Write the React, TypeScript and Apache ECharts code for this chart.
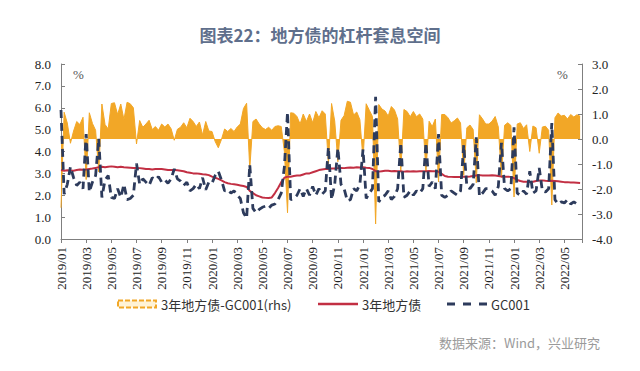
import React, { useEffect, useRef } from 'react';
import * as echarts from 'echarts';

const TITLE = '图表22：地方债的杠杆套息空间';
const SOURCE = '数据来源：Wind，兴业研究';
const NAME_SPREAD = '3年地方债-GC001(rhs)';
const NAME_BOND = '3年地方债';
const NAME_GC = 'GC001';
const START_YEAR = 2019;
const STEPS_PER_MONTH = 4; // samples per month (roughly weekly)
const X_MAX_MONTHS = 41.4;
const LEFT_AXIS = { min: 0, max: 8, interval: 1 };
const RIGHT_AXIS = { min: -4, max: 3, interval: 1 };

// 3年地方债 yield (%), four samples per month from 2019/01
const bond = [
  3.15, 3.12, 3.14, 3.13, 3.12, 3.15, 3.18, 3.17, 3.18, 3.2, 3.22, 3.25,
  3.28, 3.3, 3.28, 3.3, 3.32, 3.3, 3.28, 3.3, 3.28, 3.27, 3.26, 3.25,
  3.25, 3.24, 3.22, 3.2, 3.2, 3.18, 3.2, 3.2, 3.2, 3.18, 3.15, 3.16,
  3.15, 3.14, 3.12, 3.1, 3.05, 3.03, 3.0, 3.0, 2.98, 2.96, 2.95, 2.92,
  2.85, 2.8, 2.75, 2.68, 2.6, 2.55, 2.52, 2.5, 2.48, 2.45, 2.42, 2.38,
  2.2, 2.1, 2.0, 1.95, 1.9, 1.88, 1.87, 1.9, 2.1, 2.33, 2.6, 2.8,
  2.85, 2.85, 2.88, 2.9, 2.9, 2.95, 3.0, 3.0, 3.05, 3.1, 3.15, 3.18,
  3.2, 3.2, 3.22, 3.22, 3.24, 3.25, 3.24, 3.26, 3.27, 3.26, 3.28, 3.27,
  3.28, 3.26, 3.25, 3.2, 3.1, 3.08, 3.1, 3.12, 3.12, 3.1, 3.11, 3.1,
  3.1, 3.08, 3.1, 3.09, 3.1, 3.09, 3.1, 3.1, 3.1, 3.11, 3.1, 3.1,
  3.08, 2.98, 2.88, 2.85, 2.84, 2.83, 2.84, 2.84, 2.85, 2.85, 2.86, 2.88,
  2.9, 2.92, 2.9, 2.9, 2.9, 2.91, 2.9, 2.88, 2.86, 2.85, 2.85, 2.84,
  2.78, 2.7, 2.65, 2.62, 2.62, 2.6, 2.62, 2.65, 2.68, 2.68, 2.66, 2.65,
  2.66, 2.65, 2.64, 2.62, 2.6, 2.6, 2.58, 2.58, 2.57, 2.56,
];

// GC001 rate (%), same sampling
const gc001 = [
  5.9, 2.05, 2.5, 3.3, 2.8, 2.45, 2.6, 2.3, 4.8, 2.15, 2.6, 2.9,
  4.6, 1.9, 2.7, 2.9, 1.9, 1.85, 2.3, 1.9, 2.5, 1.8, 1.85, 2.0,
  3.45, 2.5, 2.75, 2.6, 2.45, 2.8, 2.7, 2.85, 2.6, 2.7, 2.55, 2.75,
  3.2, 2.75, 2.65, 2.45, 2.6, 2.2, 2.3, 2.5, 2.3, 2.8, 2.25, 2.6,
  2.55, 2.9, 3.1, 2.7, 2.2, 2.25, 2.1, 2.2, 2.0, 1.85, 1.2, 0.95,
  3.4, 1.4, 1.2, 1.35, 1.45, 1.5, 1.4, 1.55, 1.6, 1.8, 2.1, 3.3,
  5.8, 1.8, 1.85, 2.0, 2.3, 1.95, 2.3, 2.0, 2.4, 2.0, 2.3, 2.05,
  2.2, 4.2, 1.8, 2.5, 4.15, 2.5, 2.3, 1.75, 1.8, 2.3, 2.2, 2.5,
  4.1, 1.85, 2.1, 2.3, 6.5, 1.7, 1.9, 2.0, 2.2, 1.8, 1.95, 2.3,
  4.4, 1.9, 2.0, 2.2, 2.0, 2.2, 2.1, 2.3, 4.4, 2.4, 2.6, 2.3,
  4.8, 2.0, 1.9, 2.0, 2.2, 2.1, 2.0, 2.2, 4.3, 2.4, 2.3, 2.5,
  4.65, 1.95, 2.1, 2.3, 2.3, 2.2, 2.0, 2.4, 4.4, 2.3, 2.2, 2.3,
  5.1, 2.1, 2.0, 2.2, 2.05, 3.1, 2.1, 2.2, 3.25, 2.2, 2.15, 2.3,
  5.3, 1.8, 1.6, 1.7, 1.65, 1.8, 1.6, 1.7, 1.6, 1.65,
];

const ORANGE = '#F2A727';
const RED = '#C22F43';
const NAVY = '#2D3B5C';

const monthLabel = (v: number): string => {
  if (Math.abs(v - Math.round(v)) > 1e-6) return '';
  const m = Math.round(v);
  if (m % 2 !== 0) return '';
  const y = START_YEAR + Math.floor(m / 12);
  const mm = (m % 12) + 1;
  return `${y}/${String(mm).padStart(2, '0')}`;
};

export default function App() {
  const ref = useRef<HTMLDivElement>(null);
  useEffect(() => {
    if (!ref.current) return;
    const chart = echarts.init(ref.current, undefined, { renderer: 'svg' });
    const xs = bond.map((_, i) => i / STEPS_PER_MONTH);
    const bondData = bond.map((v, i) => [xs[i], v]);
    const gcData = gc001.map((v, i) => [xs[i], v]);
    const spreadData = bond.map((v, i) => [xs[i], Math.round((v - gc001[i]) * 100) / 100]);
    const serif = 'Liberation Serif, DejaVu Serif, serif';
    const cjk = 'Noto Sans CJK SC';
    const axisColor = '#7f7f7f';
    const legendY = 304;
    const legendText = (x: number, text: string) => ({
      type: 'text',
      x,
      y: legendY,
      style: { text, fontFamily: cjk, fontSize: 13, fill: '#333', verticalAlign: 'middle' },
    });
    const yLabel = {
      margin: 10,
      fontFamily: serif,
      fontSize: 13,
      color: '#222',
      formatter: (v: number) => v.toFixed(1),
    };
    chart.setOption({
      animation: false,
      backgroundColor: '#ffffff',
      title: {
        text: TITLE,
        left: 'center',
        top: 21,
        textStyle: { fontFamily: cjk, fontSize: 17, fontWeight: 'bold', color: '#5F6F8C' },
      },
      grid: { left: 61, right: 58, top: 64, bottom: 132 },
      xAxis: {
        type: 'value',
        min: 0,
        max: X_MAX_MONTHS,
        interval: 2,
        splitLine: { show: false },
        axisLine: { lineStyle: { color: axisColor } },
        axisTick: { show: true, length: 4, lineStyle: { color: axisColor } },
        axisLabel: {
          rotate: 90,
          margin: 8,
          fontFamily: serif,
          fontSize: 13,
          color: '#222',
          formatter: monthLabel,
        },
      },
      yAxis: [
        {
          type: 'value',
          ...LEFT_AXIS,
          position: 'left',
          splitLine: { show: false },
          axisLine: { show: true, lineStyle: { color: axisColor } },
          axisTick: { show: true, inside: true, length: 4, lineStyle: { color: axisColor } },
          axisLabel: yLabel,
        },
        {
          type: 'value',
          ...RIGHT_AXIS,
          position: 'right',
          splitLine: { show: false },
          axisLine: { show: true, lineStyle: { color: axisColor } },
          axisTick: { show: true, inside: true, length: 4, lineStyle: { color: axisColor } },
          axisLabel: yLabel,
        },
      ],
      graphic: [
        {
          type: 'text',
          x: 73,
          y: 68,
          style: { text: '%', fontFamily: serif, fontSize: 13, fill: '#555' },
        },
        {
          type: 'text',
          x: 557,
          y: 68,
          style: { text: '%', fontFamily: serif, fontSize: 13, fill: '#555' },
        },
        {
          type: 'text',
          x: 600,
          y: 342,
          style: {
            text: SOURCE,
            fontFamily: cjk,
            fontSize: 13,
            fill: '#9a9a9a',
            align: 'right',
            verticalAlign: 'middle',
          },
        },
        // legend: spread (dashed box)
        {
          type: 'rect',
          shape: { x: 118, y: 300.5, width: 38, height: 7 },
          style: { fill: '#FFF3D6', stroke: ORANGE, lineWidth: 2, lineDash: [5, 2] },
        },
        legendText(161, NAME_SPREAD),
        // legend: bond (solid line)
        {
          type: 'line',
          shape: { x1: 318, y1: legendY, x2: 358, y2: legendY },
          style: { stroke: RED, lineWidth: 2.5 },
        },
        legendText(362, NAME_BOND),
        // legend: GC001 (dashed line)
        {
          type: 'line',
          shape: { x1: 447, y1: legendY, x2: 487, y2: legendY },
          style: { stroke: NAVY, lineWidth: 3, lineDash: [8, 8] },
        },
        legendText(491, NAME_GC),
      ],
      series: [
        {
          name: NAME_SPREAD,
          type: 'line',
          yAxisIndex: 1,
          data: spreadData,
          symbol: 'none',
          color: ORANGE,
          lineStyle: { width: 1, color: ORANGE },
          areaStyle: { color: ORANGE, opacity: 1 },
          z: 1,
        },
        {
          name: NAME_BOND,
          type: 'line',
          data: bondData,
          symbol: 'none',
          color: RED,
          lineStyle: { width: 2, color: RED },
          z: 2,
        },
        {
          name: NAME_GC,
          type: 'line',
          data: gcData,
          symbol: 'none',
          color: NAVY,
          lineStyle: { width: 2.8, color: NAVY, type: [8, 5] },
          z: 3,
        },
      ],
    });
    return () => chart.dispose();
  }, []);
  return (
    <div
      ref={ref}
      style={{ position: 'fixed', left: 0, top: 0, width: 640, height: 371, background: '#fff' }}
    />
  );
}
